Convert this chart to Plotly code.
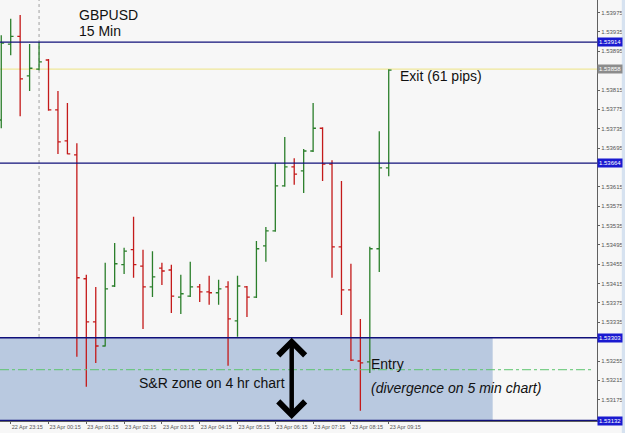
import plotly.graph_objects as go

# ---------------- data ----------------
times = [
    "2013-04-22 23:00", "2013-04-22 23:15", "2013-04-22 23:30", "2013-04-22 23:45",
    "2013-04-23 00:00", "2013-04-23 00:15", "2013-04-23 00:30", "2013-04-23 00:45",
    "2013-04-23 01:00", "2013-04-23 01:15", "2013-04-23 01:30", "2013-04-23 01:45",
    "2013-04-23 02:00", "2013-04-23 02:15", "2013-04-23 02:30", "2013-04-23 02:45",
    "2013-04-23 03:00", "2013-04-23 03:15", "2013-04-23 03:30", "2013-04-23 03:45",
    "2013-04-23 04:00", "2013-04-23 04:15", "2013-04-23 04:30", "2013-04-23 04:45",
    "2013-04-23 05:00", "2013-04-23 05:15", "2013-04-23 05:30", "2013-04-23 05:45",
    "2013-04-23 06:00", "2013-04-23 06:15", "2013-04-23 06:30", "2013-04-23 06:45",
    "2013-04-23 07:00", "2013-04-23 07:15", "2013-04-23 07:30", "2013-04-23 07:45",
    "2013-04-23 08:00", "2013-04-23 08:15", "2013-04-23 08:30", "2013-04-23 08:45",
    "2013-04-23 09:00", "2013-04-23 09:15",
]
opens = [1.53753, 1.53910, 1.53926, 1.53844, 1.53858, 1.53877, 1.53774, 1.53710,
         1.53681, 1.53425, 1.53336, 1.53286, 1.53410, 1.53454, 1.53485, 1.53451,
         1.53408, 1.53447, 1.53443, 1.53387, 1.53389, 1.53408, 1.53398, 1.53396,
         1.53408, 1.53338, 1.53408, 1.53387, 1.53493, 1.53524, 1.53617, 1.53656,
         1.53648, 1.53689, 1.53736, 1.53662, 1.53491, 1.53402, 1.53255, 1.53253,
         1.53487, 1.53654]
highs = [1.53928, 1.53962, 1.53970, 1.53910, 1.53914, 1.53879, 1.53813, 1.53788,
         1.53705, 1.53433, 1.53408, 1.53458, 1.53499, 1.53489, 1.53553, 1.53485,
         1.53482, 1.53458, 1.53454, 1.53433, 1.53460, 1.53414, 1.53431, 1.53423,
         1.53420, 1.53431, 1.53410, 1.53503, 1.53532, 1.53664, 1.53718, 1.53674,
         1.53693, 1.53788, 1.53738, 1.53670, 1.53627, 1.53456, 1.53342, 1.53491,
         1.53730, 1.53858]
lows = [1.53736, 1.53887, 1.53761, 1.53813, 1.53856, 1.53772, 1.53683, 1.53682,
        1.53264, 1.53202, 1.53251, 1.53285, 1.53408, 1.53435, 1.53427, 1.53321,
        1.53387, 1.53412, 1.53354, 1.53352, 1.53387, 1.53377, 1.53371, 1.53371,
        1.53245, 1.53305, 1.53346, 1.53385, 1.53460, 1.53522, 1.53615, 1.53619,
        1.53602, 1.53687, 1.53627, 1.53427, 1.53350, 1.53255, 1.53152, 1.53230,
        1.53439, 1.53637]
closes = [1.53912, 1.53926, 1.53838, 1.53860, 1.53873, 1.53774, 1.53708, 1.53683,
          1.53427, 1.53336, 1.53286, 1.53404, 1.53456, 1.53482, 1.53454, 1.53408,
          1.53429, 1.53441, 1.53389, 1.53394, 1.53408, 1.53398, 1.53396, 1.53404,
          1.53342, 1.53410, 1.53387, 1.53487, 1.53524, 1.53617, 1.53656, 1.53641,
          1.53689, 1.53736, 1.53662, 1.53491, 1.53402, 1.53257, 1.53251, 1.53487,
          1.53654, 1.53856]

x_tick_vals = ["2013-04-22 23:15", "2013-04-23 00:15", "2013-04-23 01:15",
               "2013-04-23 02:15", "2013-04-23 03:15", "2013-04-23 04:15",
               "2013-04-23 05:15", "2013-04-23 06:15", "2013-04-23 07:15",
               "2013-04-23 08:15", "2013-04-23 09:15"]
x_tick_text = ["22 Apr 23:15", "23 Apr 00:15", "23 Apr 01:15", "23 Apr 02:15",
               "23 Apr 03:15", "23 Apr 04:15", "23 Apr 05:15", "23 Apr 06:15",
               "23 Apr 07:15", "23 Apr 08:15", "23 Apr 09:15"]
# scale labels (those hidden behind the level boxes are left out)
y_tick_vals = [1.53175, 1.53215, 1.53255, 1.53335, 1.53375,
               1.53415, 1.53455, 1.53495, 1.53535, 1.53575, 1.53615,
               1.53695, 1.53735, 1.53775, 1.53815, 1.53895, 1.53935,
               1.53975]

navy_levels = [1.53914, 1.53664, 1.53303, 1.53132]
exit_level = 1.53858
entry_level = 1.53237
zone_low, zone_high = 1.53132, 1.53303
zone_end = "2013-04-23 12:00"
day_separator = "2013-04-23 00:00"
arrow_time = "2013-04-23 06:41"

x_range = ["2013-04-22 22:58", "2013-04-23 14:45:36"]
y_range = [1.53131, 1.54001]

FONT = "Arial, Liberation Sans, sans-serif"
BG = "#f7f7f7"

fig = go.Figure()
fig.add_trace(go.Ohlc(
    x=times, open=opens, high=highs, low=lows, close=closes,
    increasing=dict(line=dict(color="#2b7f2b", width=1.3)),
    decreasing=dict(line=dict(color="#c41a1a", width=1.3)),
    tickwidth=0.3, hoverinfo="skip", showlegend=False,
))

shapes = []
# S&R zone
shapes.append(dict(type="rect", xref="x", yref="y", x0=x_range[0], x1=zone_end,
                   y0=zone_low, y1=zone_high, fillcolor="#b9c9e0",
                   line=dict(width=0), layer="below"))
# day separator
shapes.append(dict(type="line", xref="x", yref="paper", x0=day_separator,
                   x1=day_separator, y0=0, y1=1,
                   line=dict(color="#a0a0a0", width=1, dash="dot"), layer="below"))
# exit line
shapes.append(dict(type="line", xref="paper", yref="y", x0=0, x1=1,
                   y0=exit_level, y1=exit_level,
                   line=dict(color="#efe79a", width=1.2), layer="below"))
# entry line (drawn over the zone)
shapes.append(dict(type="line", xref="paper", yref="y", x0=0, x1=0.99,
                   y0=entry_level, y1=entry_level,
                   line=dict(color="#5cc46e", width=1, dash="dashdot"), layer="above"))
for lv in navy_levels:
    shapes.append(dict(type="line", xref="paper", yref="y", x0=0, x1=1,
                       y0=lv, y1=lv, line=dict(color="#10107a", width=1.3),
                       layer="above"))
# right edge strip
shapes.append(dict(type="rect", xref="paper", yref="paper", x0=1.0415, x1=1.05,
                   y0=-0.05, y1=1, fillcolor="#d6e2f0", line=dict(width=0)))

annotations = []
def label(text, x, y, size=14, italic=False):
    annotations.append(dict(
        text=f"<i>{text}</i>" if italic else text, xref="paper", yref="paper",
        x=x, y=y, xanchor="left", yanchor="middle", showarrow=False,
        font=dict(family=FONT, size=size, color="#111111")))

label("GBPUSD", 77 / 597, 1 - 15 / 421)
label("15 Min", 77 / 597, 1 - 31 / 421)
label("Exit (61 pips)", 398 / 597, 1 - 76 / 421)
label("Entry", 369 / 597, 1 - 364 / 421)
label("S&R zone on 4 hr chart", 137 / 597, 1 - 383 / 421)
label("(divergence on 5 min chart)", 369 / 597, 1 - 388 / 421, italic=True)

# price label boxes on the right axis
for lv, bg in [(1.53914, "#1a1ad0"), (exit_level, "#8c8c8c"), (1.53664, "#1a1ad0"),
               (1.53303, "#1a1ad0"), (1.53132, "#1a1ad0")]:
    annotations.append(dict(
        text=f"{lv:.5f}", xref="paper", yref="y", x=1.0, y=lv,
        xanchor="left", yanchor="middle", showarrow=False, bgcolor=bg,
        borderpad=1, xshift=0,
        font=dict(family=FONT, size=6, color="#ffffff")))

# double-headed arrow across the zone
annotations.append(dict(
    text="", x=arrow_time, y=zone_high, ax=arrow_time, ay=zone_low,
    xref="x", yref="y", axref="x", ayref="y", showarrow=True,
    arrowside="end+start", arrowhead=4, startarrowhead=4,
    arrowwidth=4.5, arrowsize=1.15, startarrowsize=1.15, arrowcolor="#000000",
    standoff=0, startstandoff=0))

fig.update_layout(
    width=625, height=433,
    margin=dict(l=0, r=28, t=0, b=12),
    paper_bgcolor=BG, plot_bgcolor=BG,
    showlegend=False,
    shapes=shapes, annotations=annotations,
    font=dict(family=FONT),
    xaxis=dict(
        type="date", range=x_range, rangeslider=dict(visible=False),
        tickvals=x_tick_vals, ticktext=x_tick_text, tickangle=0,
        ticklabelposition="outside right",
        ticks="outside", ticklen=2, tickcolor="#606060",
        tickfont=dict(size=5.5, color="#555555", family=FONT),
        showgrid=False, zeroline=False, showline=True, linecolor="#606060",
        automargin=False, fixedrange=True,
    ),
    yaxis=dict(
        side="right", range=y_range, tickvals=y_tick_vals, tickformat=".5f",
        ticks="outside", ticklen=2, tickcolor="#606060",
        tickfont=dict(size=6, color="#555555", family=FONT),
        showgrid=False, zeroline=False, showline=True, linecolor="#606060",
        automargin=False, fixedrange=True,
    ),
)

fig.write_html("out.html")
